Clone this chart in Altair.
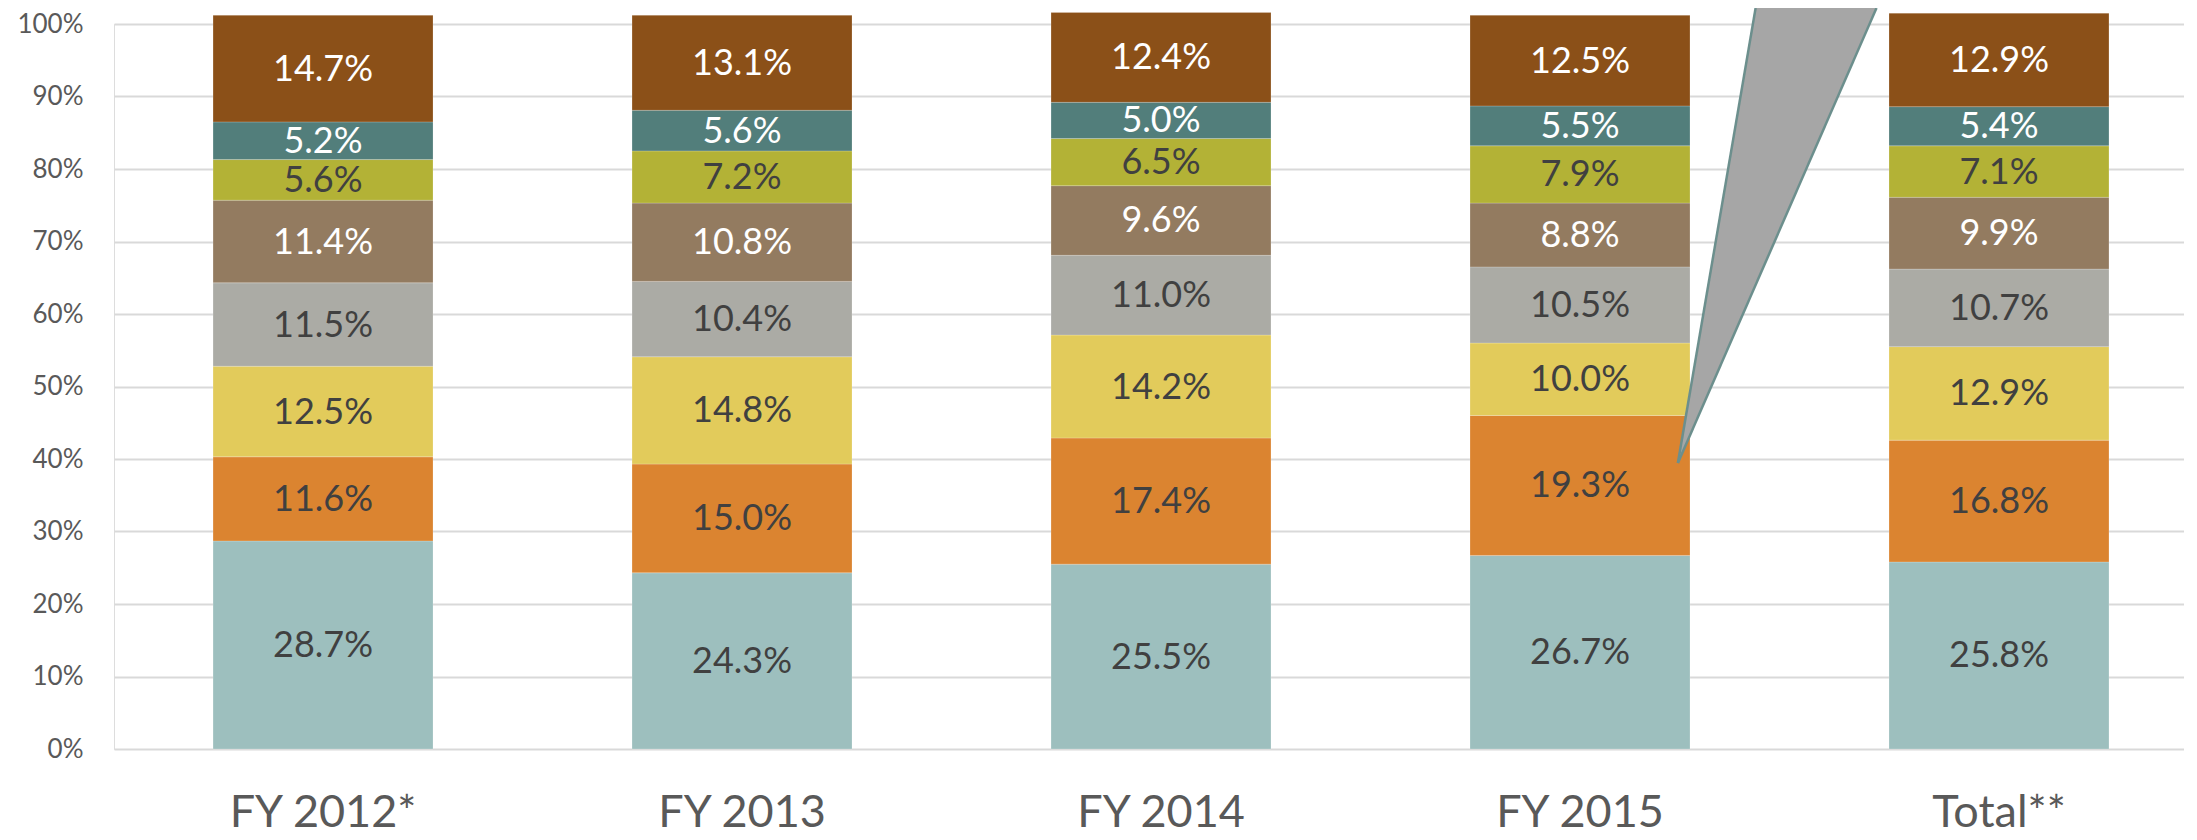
import altair as alt
import pandas as pd

years = ["FY 2012*", "FY 2013", "FY 2014", "FY 2015", "Total**"]
series = ["S1", "S2", "S3", "S4", "S5", "S6", "S7", "S8"]  # bottom -> top
bar_colors = ["#9DBFBE", "#DB8430", "#E2CB5B", "#ABABA5", "#937B60", "#B3B236", "#527E7B", "#8B5018"]
text_colors = ["#404040", "#404040", "#404040", "#404040", "#FFFFFF", "#404040", "#FFFFFF", "#FFFFFF"]

s1 = [28.7, 24.3, 25.5, 26.7, 25.8]
s2 = [11.6, 15.0, 17.4, 19.3, 16.8]
s3 = [12.5, 14.8, 14.2, 10.0, 12.9]
s4 = [11.5, 10.4, 11.0, 10.5, 10.7]
s5 = [11.4, 10.8, 9.6, 8.8, 9.9]
s6 = [5.6, 7.2, 6.5, 7.9, 7.1]
s7 = [5.2, 5.6, 5.0, 5.5, 5.4]
s8 = [14.7, 13.1, 12.4, 12.5, 12.9]
all_series = [s1, s2, s3, s4, s5, s6, s7, s8]

y_ticks = [0, 10, 20, 30, 40, 50, 60, 70, 80, 90, 100]

# callout wedge (in category-index units / percent units)
callout_y = [39.45, 102.2]
callout_xl = [3.236, 3.4215]
callout_xr = [3.236, 3.710]

rows = []
for si, (name, vals) in enumerate(zip(series, all_series)):
    for yi, (yr, v) in enumerate(zip(years, vals)):
        rows.append({"year": yr, "series": name, "idx": si, "value": v, "tc": text_colors[si]})
df = pd.DataFrame(rows)

W, H = 2070, 725
FONT = "Lato"

xscale = alt.Scale(domain=years, paddingInner=0.475, paddingOuter=0.2077, align=0.569, round=False)
yscale = alt.Scale(domain=[0, 100], nice=False, zero=True)

base = alt.Chart(df).transform_stack(
    stack="value", groupby=["year"], as_=["y0", "y1"], sort=[alt.SortField("idx", order="ascending")]
).transform_calculate(
    mid="(datum.y0 + datum.y1) / 2",
    label="format(datum.value, '.1f') + '%'"
)

bars = base.mark_bar(stroke="#FFFFFF", strokeWidth=0.5, strokeOpacity=0.4).encode(
    x=alt.X("year:N", scale=xscale, sort=years,
            axis=alt.Axis(title=None, labelFont=FONT, labelFontSize=45, labelColor="#595959",
                          labelPadding=41, labelLimit=0, ticks=False, domain=False, labelAngle=0,
                          grid=False)),
    y=alt.Y("y0:Q", scale=yscale,
            axis=alt.Axis(title=None, values=y_ticks, labelExpr="datum.value + '%'",
                          labelFont=FONT, labelFontSize=26, labelColor="#595959",
                          labelPadding=31, ticks=False, domain=False,
                          grid=True, gridColor="#D9D9D9", gridWidth=2)),
    y2="y1:Q",
    color=alt.Color("series:N", scale=alt.Scale(domain=series, range=bar_colors), legend=None),
)

labels = base.mark_text(font=FONT, fontSize=36, baseline="middle", align="center", dy=1).encode(
    x=alt.X("year:N", scale=xscale, sort=years),
    y=alt.Y("mid:Q", scale=yscale),
    text="label:N",
    color=alt.Color("tc:N", scale=None),
)

cdf = pd.DataFrame({"cy": callout_y, "xl": callout_xl, "xr": callout_xr})
cxscale = alt.Scale(domain=[-0.4964, 4.4439], nice=False, zero=False)

wedge = alt.Chart(cdf).mark_area(orient="horizontal", color="#A6A6A6", opacity=1).encode(
    x=alt.X("xl:Q", scale=cxscale, axis=None),
    x2="xr:Q",
    y=alt.Y("cy:Q", scale=yscale),
)

edge_df = pd.DataFrame({
    "ax": [callout_xl[0], callout_xr[0]],
    "ay": [callout_y[0], callout_y[0]],
    "bx": [callout_xl[1], callout_xr[1]],
    "by": [callout_y[1], callout_y[1]],
})
edges = alt.Chart(edge_df).mark_rule(color="#6C8F8D", strokeWidth=2.5).encode(
    x=alt.X("ax:Q", scale=cxscale, axis=None),
    x2="bx:Q",
    y=alt.Y("ay:Q", scale=yscale),
    y2="by:Q",
)

bar_layer = alt.layer(bars, labels)
ann_layer = alt.layer(wedge, edges)

chart = alt.layer(bar_layer, ann_layer).resolve_scale(x="independent", color="independent").properties(
    width=W, height=H,
    autosize=alt.AutoSizeParams(type="none"),
    padding={"left": 106, "top": 16, "right": 0, "bottom": 83},
).configure_view(stroke=None).configure(background="#FFFFFF")

chart.save("out.html", embed_options={"renderer": "svg", "actions": False})
